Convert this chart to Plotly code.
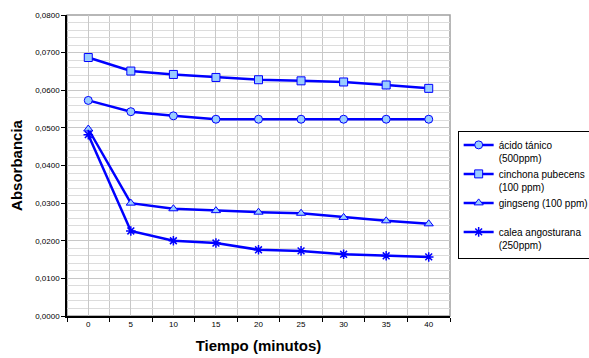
import plotly.graph_objects as go

tiempo = [0, 5, 10, 15, 20, 25, 30, 35, 40]
tick_labels = ["0", "5", "10", "15", "20", "25", "30", "35", "40"]

acido_tanico = [0.0573, 0.0543, 0.0532, 0.0523, 0.0523, 0.0523, 0.0523, 0.0523, 0.0523]
cinchona = [0.0687, 0.0651, 0.0642, 0.0634, 0.0628, 0.0625, 0.0622, 0.0614, 0.0605]
gingseng = [0.0497, 0.0300, 0.0285, 0.0280, 0.0276, 0.0273, 0.0262, 0.0253, 0.0245]
calea = [0.0482, 0.0226, 0.0200, 0.0194, 0.0176, 0.0173, 0.0164, 0.0160, 0.0157]

names = ["ácido tánico<br>(500ppm)", "cinchona pubecens<br>(100 ppm)",
         "gingseng (100 ppm)<br>&nbsp;", "calea angosturana<br>(250ppm)"]
series = [acido_tanico, cinchona, gingseng, calea]
symbols = ["circle", "square", "triangle-up", "asterisk-open"]

LINE = "#0000ff"
FILL = "#99ccff"

fig = go.Figure()
for name, vals, sym in zip(names, series, symbols):
    if sym == "asterisk-open":
        marker = dict(symbol=sym, size=8, color=LINE, line=dict(color=LINE, width=1.5))
    else:
        marker = dict(symbol=sym, size=8, color=FILL, line=dict(color=LINE, width=1))
    fig.add_trace(go.Scatter(
        x=tiempo, y=vals, name=name, mode="lines+markers",
        line=dict(color=LINE, width=2.5), marker=marker,
    ))

fig.update_layout(
    width=589, height=358,
    margin=dict(l=67, r=139, t=15, b=42, autoexpand=False),
    paper_bgcolor="white", plot_bgcolor="white",
    separators=",.",
    font=dict(family="Arial, Liberation Sans, sans-serif", color="black", size=8),
    showlegend=True,
    legend=dict(
        x=1.02, y=0.615, xanchor="left", yanchor="top",
        bordercolor="black", borderwidth=1,
        font=dict(size=10, color="black"),
        valign="top", tracegroupgap=0, itemwidth=30,
    ),
)

fig.update_xaxes(
    range=[-2.5, 42.5],
    tickmode="array", tickvals=tiempo, ticktext=tick_labels,
    ticks="", showgrid=True, gridcolor="#c8c8c8", gridwidth=1,
    showline=True, linecolor="black", linewidth=1.5, mirror=False,
    minor=dict(tick0=2.5, dtick=5, ticks="outside", ticklen=4, tickcolor="black",
               showgrid=True, gridcolor="#c8c8c8", gridwidth=1),
    tickfont=dict(size=8),
    title=dict(text="<b>Tiempo (minutos)</b>", font=dict(size=15), standoff=12),
    zeroline=False,
)
fig.update_yaxes(
    range=[0, 0.08], dtick=0.01, tick0=0, tickformat=".4f",
    ticks="outside", ticklen=4, tickcolor="black",
    showgrid=True, gridcolor="#c8c8c8", gridwidth=1,
    showline=True, linecolor="black", linewidth=1.5,
    minor=dict(dtick=0.002, showgrid=True, gridcolor="#dcdcdc", gridwidth=1),
    tickfont=dict(size=8),
    title=dict(text="<b>Absorbancia</b>", font=dict(size=15), standoff=9),
    zeroline=False,
)

# plot-area border (top & right)
fig.add_shape(type="rect", xref="paper", yref="paper", x0=0, y0=0, x1=1, y1=1,
              line=dict(color="#a0a0a0", width=1.5), layer="below")

fig.write_html("out.html")
